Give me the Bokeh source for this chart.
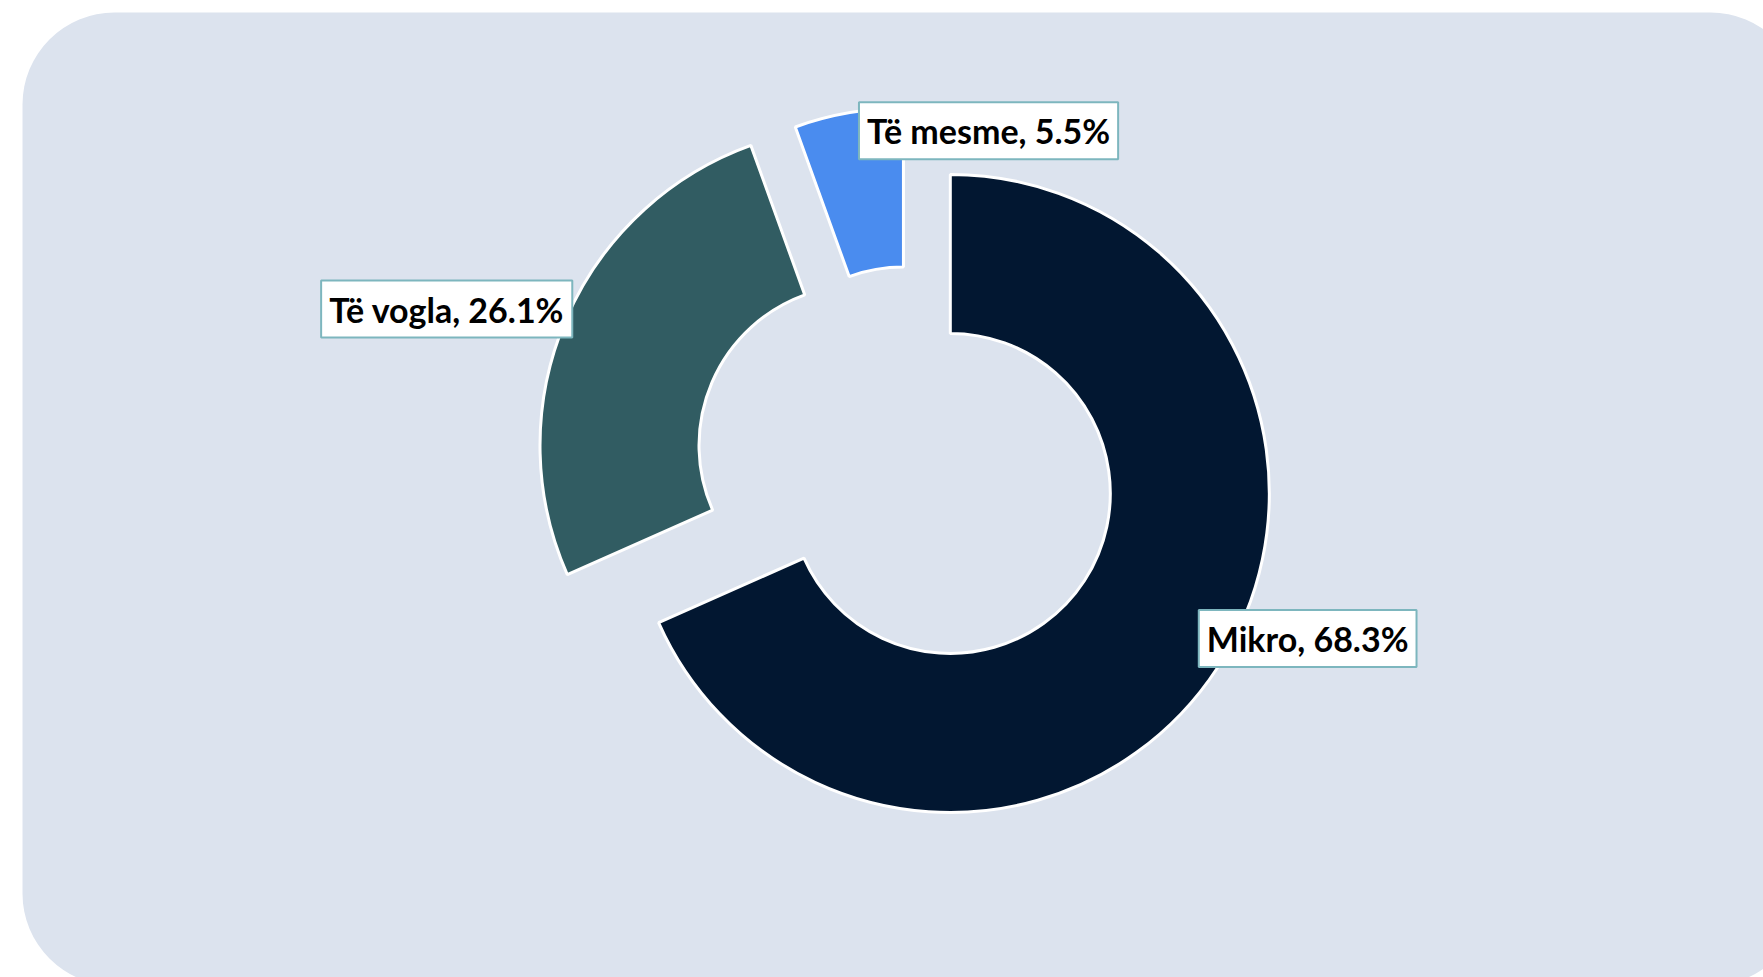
import math
from bokeh.plotting import figure
from bokeh.models import BoxAnnotation, ColumnDataSource, Range1d
from bokeh.core.properties import value
from bokeh.embed import file_html
from bokeh.resources import INLINE

# ---- data ----
categories = ["Mikro", "Të vogla", "Të mesme"]
shares = [68.3, 26.1, 5.5]
colors = ["#021731", "#315C62", "#4A8CEF"]

# ---- layout constants (pixels) ----
W, H = 1763, 977
CX, CY = 910, H - 467          # pie centre (y up)
R_OUT, R_IN = 319, 160
EXPLODE = [47.5, 56, 41]       # per-slice explosion distance
LABEL_OFF = [(90, 29), (-119, 11), (140, -18)]  # offset from mid outer point (y up)

p = figure(width=W, height=H, output_backend="svg", toolbar_location=None,
           x_range=Range1d(0, W), y_range=Range1d(0, H), min_border=0,
           background_fill_color="white", border_fill_color="white")
p.axis.visible = False
p.grid.visible = False
p.outline_line_color = None

bg = BoxAnnotation(left=22, right=1802, top=H - 12, bottom=H - 985,
                   fill_color="#DCE3EE", fill_alpha=1, line_color=None,
                   border_radius=92, level="underlay")
p.add_layout(bg)

total = sum(shares)
xs, ys, starts, ends, lx, ly, texts = [], [], [], [], [], [], []
cum = 0.0
for i, v in enumerate(shares):
    f = v / total
    a0 = math.pi / 2 - 2 * math.pi * cum
    a1 = math.pi / 2 - 2 * math.pi * (cum + f)
    mid = (a0 + a1) / 2
    cx = CX + EXPLODE[i] * math.cos(mid)
    cy = CY + EXPLODE[i] * math.sin(mid)
    xs.append(cx); ys.append(cy); starts.append(a0); ends.append(a1)
    ox = cx + R_OUT * math.cos(mid)
    oy = cy + R_OUT * math.sin(mid)
    lx.append(ox + LABEL_OFF[i][0]); ly.append(oy + LABEL_OFF[i][1])
    texts.append(f"{categories[i]}, {v}%")
    cum += f

src = ColumnDataSource(dict(x=xs, y=ys, start=starts, end=ends, color=colors))
p.annular_wedge(x="x", y="y", inner_radius=R_IN, outer_radius=R_OUT,
                start_angle="start", end_angle="end", direction="clock",
                fill_color="color", line_color="white", line_width=3, source=src)

lsrc = ColumnDataSource(dict(x=lx, y=ly, text=texts))
p.text(x="x", y="y", text="text", source=lsrc, text_align="center",
       text_baseline="middle", text_font=value("Lato"), text_font_style="bold",
       text_font_size="34px", text_color="black",
       background_fill_color="white", border_line_color="#7DB6BE",
       border_line_width=2, padding=[8, 8, 8, 8])

open("out.html", "w").write(file_html(p, INLINE))
